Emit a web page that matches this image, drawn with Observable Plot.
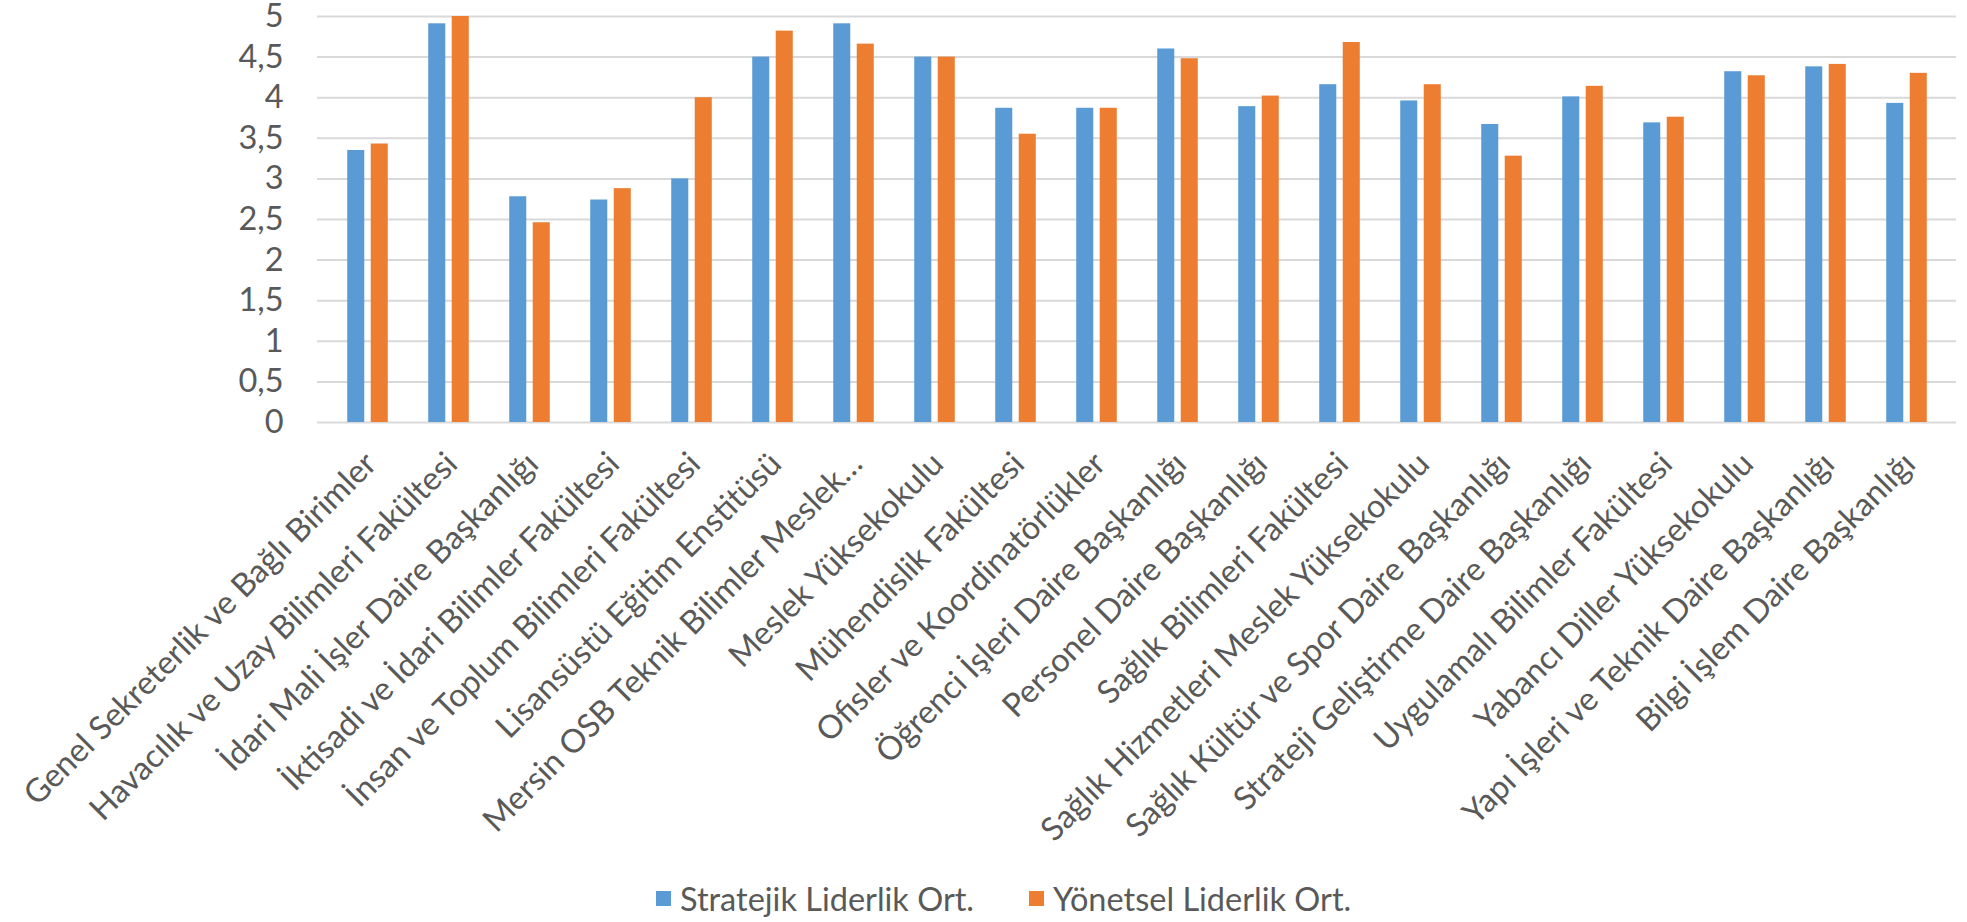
<!DOCTYPE html>
<html><head><meta charset="utf-8">
<script src="https://cdn.jsdelivr.net/npm/d3@7"></script>
<script src="https://cdn.jsdelivr.net/npm/@observablehq/plot@0.6"></script>
<style>
body{margin:0;background:#fff;font-family:Lato,sans-serif;}
#wrap{position:relative;width:1967px;height:922px;overflow:hidden;}
#chart{position:absolute;left:0;top:0;}
.leg{position:absolute;top:880px;display:flex;align-items:center;font:32.5px Lato,sans-serif;color:#595959;white-space:nowrap;line-height:37px;}
.leg span.sw{display:inline-block;width:15px;height:15px;margin-right:9px;}
</style></head><body>
<div id="wrap"><div id="chart"></div><div id="legend"></div></div>
<script>
const categories = [
  "Genel Sekreterlik ve Bağlı Birimler",
  "Havacılık ve Uzay Bilimleri Fakültesi",
  "İdari Mali İşler Daire Başkanlığı",
  "İktisadi ve İdari Bilimler Fakültesi",
  "İnsan ve Toplum Bilimleri Fakültesi",
  "Lisansüstü Eğitim Enstitüsü",
  "Mersin OSB Teknik Bilimler Meslek…",
  "Meslek Yüksekokulu",
  "Mühendislik Fakültesi",
  "Ofisler ve Koordinatörlükler",
  "Öğrenci İşleri Daire Başkanlığı",
  "Personel Daire Başkanlığı",
  "Sağlık Bilimleri Fakültesi",
  "Sağlık Hizmetleri Meslek Yüksekokulu",
  "Sağlık Kültür ve Spor Daire Başkanlığı",
  "Strateji Geliştirme Daire Başkanlığı",
  "Uygulamalı Bilimler Fakültesi",
  "Yabancı Diller Yüksekokulu",
  "Yapı İşleri ve Teknik Daire Başkanlığı",
  "Bilgi İşlem Daire Başkanlığı"
];
const stratejik = [3.35, 4.91, 2.78, 2.74, 3.00, 4.50, 4.91, 4.50, 3.87, 3.87, 4.60, 3.89, 4.16, 3.96, 3.67, 4.01, 3.69, 4.32, 4.38, 3.93];
const yonetsel  = [3.43, 5.00, 2.46, 2.88, 4.00, 4.82, 4.66, 4.50, 3.55, 3.87, 4.48, 4.02, 4.68, 4.16, 3.28, 4.14, 3.76, 4.27, 4.41, 4.30];
const seriesNames = ["Stratejik Liderlik Ort.", "Yönetsel Liderlik Ort."];
const seriesColors = ["#5B9BD5", "#ED7D31"];
const yTicks = [0, 0.5, 1, 1.5, 2, 2.5, 3, 3.5, 4, 4.5, 5];

const data = categories.flatMap((c, i) => [
  {cat: c, series: seriesNames[0], value: stratejik[i]},
  {cat: c, series: seriesNames[1], value: yonetsel[i]}
]);

const W = 1967, H = 870;
const mL = 317, mR = 11, mT = 16, baseY = 422;
const band = (W - mL - mR) / categories.length;
const barW = 18, gap = 5.5, outer = (band - 2 * barW - gap) / 2;
const fontSize = 32.5, textColor = "#595959";

const chart = Plot.plot({
  width: W, height: H,
  marginLeft: mL, marginRight: mR, marginTop: mT, marginBottom: H - baseY,
  style: {fontFamily: "Lato, sans-serif", background: "transparent", overflow: "visible"},
  x: {domain: categories, padding: 0, axis: null},
  y: {domain: [0, 5], axis: null},
  color: {domain: seriesNames, range: seriesColors},
  marks: [
    Plot.gridY(yTicks, {stroke: "#d9d9d9", strokeOpacity: 1, strokeWidth: 2}),
    Plot.barY(data.filter(d => d.series === seriesNames[0]), {x: "cat", y: "value", fill: "series", insetLeft: outer, insetRight: outer + barW + gap}),
    Plot.barY(data.filter(d => d.series === seriesNames[1]), {x: "cat", y: "value", fill: "series", insetLeft: outer + barW + gap, insetRight: outer}),
    Plot.axisY(yTicks, {label: null, tickSize: 0, tickPadding: 34, tickFormat: d => String(d).replace(".", ","), fontSize, fill: textColor}),
    Plot.axisX({label: null, tickSize: 0, tickPadding: 0, tickRotate: -45, textAnchor: "end", lineAnchor: "middle", dx: 3, dy: 36, fontSize, fill: textColor})
  ]
});
document.getElementById("chart").appendChild(chart);

const legendPos = [656, 1029];
const legend = document.getElementById("legend");
seriesNames.forEach((name, i) => {
  const item = document.createElement("div");
  item.className = "leg";
  item.style.left = legendPos[i] + "px";
  const sw = document.createElement("span");
  sw.className = "sw";
  sw.style.background = seriesColors[i];
  item.appendChild(sw);
  item.appendChild(document.createTextNode(name));
  legend.appendChild(item);
});
</script>
</body></html>
